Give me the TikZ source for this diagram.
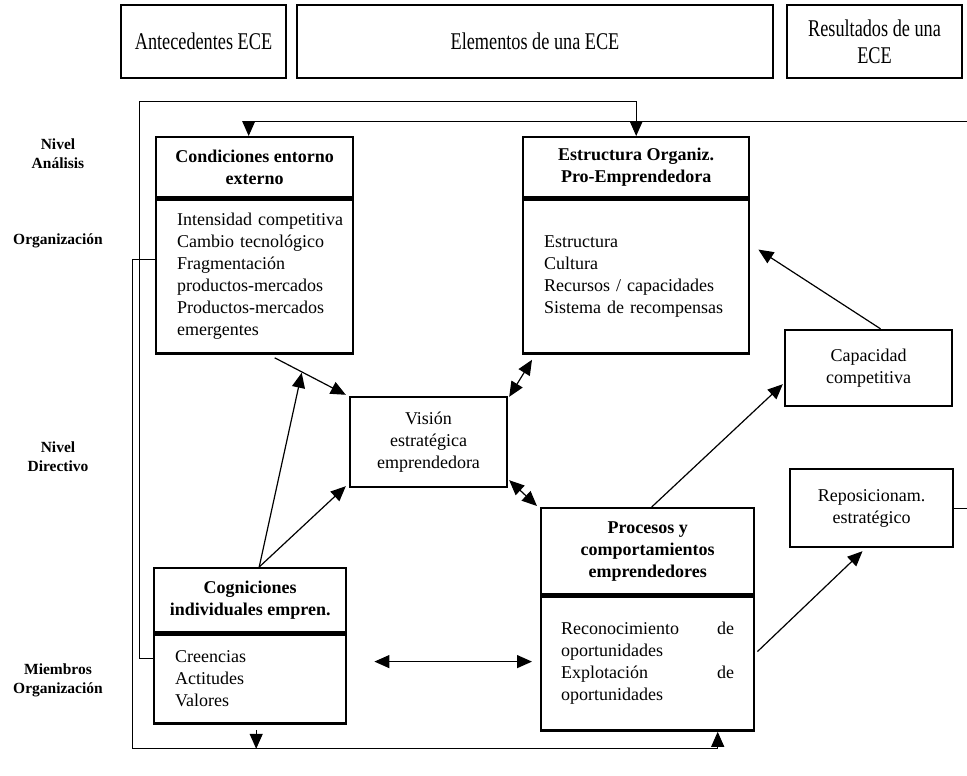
\documentclass[tikz,border=0pt]{standalone}
\usepackage{fontspec}
\setmainfont{Liberation Serif}
\newfontfamily\headfont[FakeStretch=0.76]{Liberation Serif}
\usetikzlibrary{positioning,arrows.meta,calc}
\begin{document}
\begin{tikzpicture}[x=1pt,y=-1pt,
  every node/.style={font=\fontsize{18}{22}\selectfont},
  topbox/.style={draw,line width=1.8pt,minimum height=73pt,align=center,font=\headfont\fontsize{24}{27}\selectfont},
  boxtitle/.style={draw,line width=2.4pt,align=center,inner sep=0pt,font=\bfseries\fontsize{18}{22}\selectfont},
  boxtext/.style={draw,line width=2.4pt,align=left,inner xsep=21pt,inner ysep=0pt},
  plainbox/.style={draw,line width=2.4pt,align=center,inner sep=0pt},
  tier/.style={align=center,font=\bfseries\fontsize{15.5}{19}\selectfont},
  tri/.style={-{Triangle[length=15pt,width=13pt]}},
  conn/.style={line width=1.2pt,tri},
  conn2/.style={line width=1.2pt,{Triangle[length=15pt,width=13pt]}-{Triangle[length=15pt,width=13pt]}},
  fback/.style={line width=1pt}]
  \useasboundingbox (0,0) rectangle (967,776);
  \node[topbox,minimum width=165pt] (antec) at (203.5,41.5) {Antecedentes ECE};
  \node[topbox,minimum width=476pt] (elem) at (535,41.5) {Elementos de una ECE};
  \node[topbox,minimum width=175pt] (result) at (874.5,41.5) {Resultados de una\\ECE};
  \node[tier] (nivA) at (58,154) {Nivel\\Análisis};
  \node[tier] (orgA) at (58,241) {Organización};
  \node[tier] (nivB) at (58,457) {Nivel\\Directivo};
  \node[tier] (miemb) at (58,680) {Miembros\\Organización};
  \node[boxtitle,minimum width=197pt,minimum height=60pt,anchor=north west] (condT) at (155,136) {Condiciones entorno\\externo};
  \node[boxtext,text width=155pt,minimum height=154pt,below=0pt of condT] (condB) {\mbox{Intensidad competitiva}\\Cambio tecnológico\\Fragmentación\\productos-mercados\\Productos-mercados\\emergentes};
  \node[boxtitle,minimum width=226pt,minimum height=60pt,anchor=north west] (estrT) at (522,136) {Estructura Organiz.\\Pro-Emprendedora};
  \node[boxtext,text width=184pt,minimum height=154pt,below=0pt of estrT] (estrB) {Estructura\\Cultura\\Recursos / capacidades\\Sistema de recompensas};
  \node[plainbox,minimum width=157pt,minimum height=90pt] (vis) at (428.5,442) {Visión\\estratégica\\emprendedora};
  \node[plainbox,minimum width=167pt,minimum height=76pt] (cap) at (868.5,368) {Capacidad\\competitiva};
  \node[plainbox,minimum width=163pt,minimum height=78pt] (repo) at (871.5,508) {Reposicionam.\\estratégico};
  \node[boxtitle,minimum width=213pt,minimum height=86pt,anchor=north west] (procT) at (540,507) {Procesos y\\comportamientos\\emprendedores};
  \node[boxtext,text width=173pt,inner xsep=20pt,minimum height=134pt,below=0pt of procT] (procB) {Reconocimiento\hfill de\\oportunidades\\Explotación\hfill de\\oportunidades};
  \node[boxtitle,minimum width=192pt,minimum height=64pt,anchor=north west] (cogT) at (153,567) {Cogniciones\\individuales empren.};
  \node[boxtext,text width=150pt,minimum height=89pt,below=0pt of cogT] (cogB) {Creencias\\Actitudes\\Valores};
  \coordinate (edgeA) at (967,508);
  \coordinate (edgeB) at (967,121);
  \draw[fback] (repo.east) -- (edgeA);
  \draw[fback,tri] (edgeB) -| ([xshift=-6pt]condT.north);
  \draw[fback,tri] (cogB.west |- 0,658) -| (139,101) -| (estrT.north);
  \draw[fback,tri] (condB.west |- 0,259) -| (132,748) -| ([xshift=70pt]procB.south);
  \draw[conn] ([shift={(20,3)}]condB.south) -- ([shift={(-3,-1)}]vis.north west);
  \draw[conn] ([xshift=9pt]cogT.north) -- ([shift={(47,18)}]condB.south);
  \draw[conn] ([xshift=9pt]cogT.north) -- ([shift={(-3,-2)}]vis.south west);
  \draw[conn2] ([shift={(1,1)}]vis.north east) -- ([shift={(10,5)}]estrB.south west);
  \draw[conn2] ([shift={(1,-8)}]vis.south east) -- ([shift={(-3,-1)}]procT.north west);
  \draw[conn2] ([shift={(27,-17.5)}]cogB.east) -- ([shift={(-8,-2)}]procB.west);
  \draw[conn] ([xshift=4pt]procT.north) -- ([shift={(-1,-23)}]cap.south west);
  \draw[conn] ([xshift=12pt]cap.north) -- ([shift={(8,-27)}]estrB.east);
  \draw[conn] ([shift={(2,-12)}]procB.east) -- ([shift={(-9,3)}]repo.south);
  \draw[conn] ([shift={(6,5)}]cogB.south) -- ([shift={(6,24)}]cogB.south);
\end{tikzpicture}
\end{document}
